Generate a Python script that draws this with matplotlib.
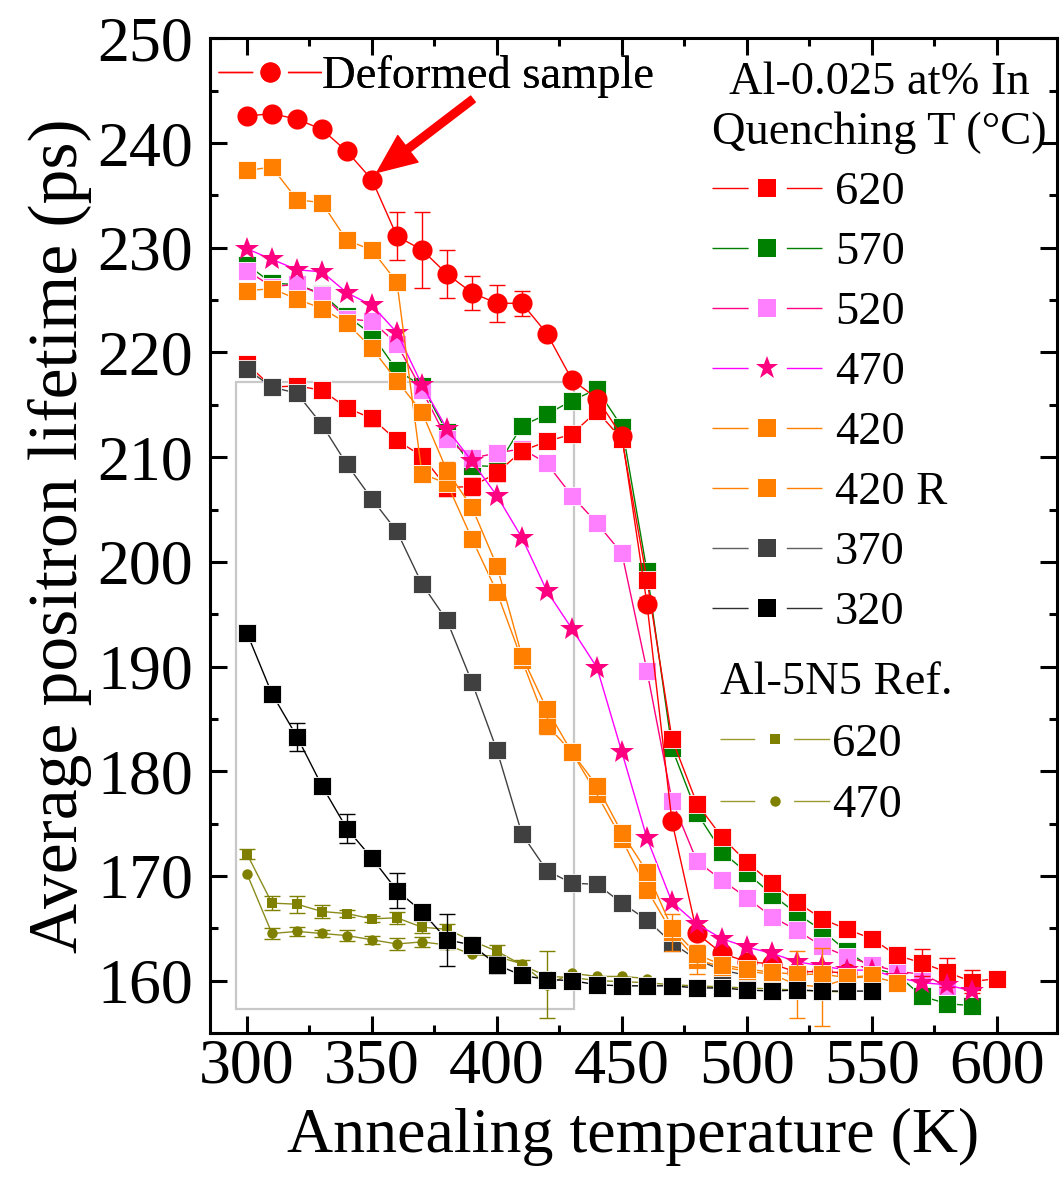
import numpy as np
import matplotlib
matplotlib.use("Agg")
import matplotlib.pyplot as plt
from matplotlib.lines import Line2D
from matplotlib.patches import Rectangle
from matplotlib.ticker import MultipleLocator

plt.rcParams["font.family"] = ["Liberation Serif", "DejaVu Serif"]
plt.rcParams["lines.scale_dashes"] = False

# ---------------- data: average positron lifetime (ps) vs annealing T (K) ----------------
T_deformed = np.arange(300, 541, 10)
tau_deformed = np.array([242.6, 242.8, 242.3, 241.3, 239.2, 236.5, 231.1, 229.8, 227.5, 225.7,
                         224.7, 224.7, 221.8, 217.4, 215.6, 212.0, 196.0, 175.2, 164.5, 162.6,
                         161.8, 161.6, 160.8, 160.9, 160.7])
err_deformed = np.array([0, 0, 0, 0, 0, 0, 2.3, 3.6, 2.3, 1.6,
                         1.75, 1.2, 0.5, 0, 0.5, 0.5, 0.6, 0, 0, 0,
                         0, 0, 0, 0, 0])

T_620 = np.arange(300, 601, 10)
tau_620 = np.array([218.9, 216.7, 216.8, 216.4, 214.7, 213.7, 211.6, 210.1, 207.1, 207.2,
                    208.5, 210.6, 211.5, 212.2, 214.4, 211.7, 198.3, 183.1, 176.9, 173.7,
                    171.3, 169.3, 167.5, 165.9, 164.9, 164.0, 162.4, 161.7, 160.8, 159.9,
                    160.2])
err_620 = np.array([0, 0.4, 0.6, 0.6, 0.7, 0.7, 0, 0, 0.8, 0.8,
                    0.8, 0.8, 0.5, 0, 0, 0, 0.4, 0, 0, 0,
                    0, 0, 0, 0, 0, 0, 0.5, 1.3, 1.4, 1.1,
                    0])

T_570 = np.arange(300, 591, 10)
tau_570 = np.array([228.4, 226.6, 226.5, 225.6, 223.5, 221.7, 218.3, 216.8, 212.4, 209.2,
                    209.1, 213.0, 214.1, 215.4, 216.5, 212.9, 199.1, 182.2, 176.0, 172.3,
                    170.3, 168.2, 166.4, 164.8, 162.8, 161.2, 160.6, 158.5, 157.8, 157.6])

T_520 = np.arange(300, 581, 10)
tau_520 = np.array([227.8, 226.3, 226.5, 225.5, 223.2, 223.0, 220.8, 216.4, 211.7, 209.9,
                    210.4, 210.8, 209.4, 206.3, 203.7, 200.8, 189.6, 177.2, 171.4, 169.6,
                    167.9, 166.1, 164.8, 163.3, 162.3, 161.5, 160.9, 160.6, 159.5])

T_470 = np.arange(300, 591, 10)
tau_470 = np.array([229.9, 228.9, 227.9, 227.7, 225.7, 224.5, 221.9, 216.9, 212.7, 209.6,
                    206.3, 202.3, 197.2, 193.6, 189.9, 181.8, 173.6, 167.5, 165.4, 164.0,
                    163.2, 162.6, 161.8, 161.4, 161.0, 161.0, 160.3, 159.8, 159.6, 159.0])

T_420 = np.arange(300, 561, 10)
tau_420 = np.array([237.4, 237.7, 234.6, 234.3, 230.7, 229.8, 226.7, 208.4, 207.5, 202.2,
                    197.1, 190.6, 184.4, 181.8, 177.8, 173.5, 168.7, 164.6, 162.0, 161.3,
                    160.9, 160.6, 159.6, 159.4, 160.2, 160.4, 159.8])
err_420 = np.array([0, 0, 0, 0, 0, 0, 0, 0, 0, 0,
                    0.5, 0, 0.8, 0, 0.4, 0, 0, 1.75, 1.4, 0,
                    0, 0, 3.2, 3.7, 0, 0, 0])

T_420R = np.arange(300, 551, 10)
tau_420R = np.array([225.9, 226.1, 225.1, 224.2, 222.8, 220.4, 217.3, 214.3, 208.7, 205.2,
                     199.6, 191.0, 185.9, 181.8, 178.6, 174.1, 170.4, 165.0, 162.5, 161.5,
                     161.1, 160.8, 160.6, 160.6, 160.3, 160.5])
err_420R = np.array([0, 0, 0, 0, 0, 0, 0, 0, 0.8, 0,
                     0, 0.5, 0, 0, 0, 0, 0, 0, 0, 0,
                     0, 0, 0, 0, 0, 0])

T_370 = np.arange(300, 501, 10)
tau_370 = np.array([218.4, 216.7, 216.1, 213.1, 209.3, 206.0, 202.9, 197.9, 194.4, 188.5,
                    182.0, 174.0, 170.5, 169.3, 169.2, 167.4, 165.8, 163.6, 162.0, 161.0,
                    160.5])

T_320 = np.arange(300, 551, 10)
tau_320 = np.array([193.2, 187.4, 183.3, 178.6, 174.5, 171.7, 168.6, 166.6, 163.9, 163.4,
                    161.5, 160.5, 160.1, 160.0, 159.6, 159.5, 159.5, 159.5, 159.3, 159.3,
                    159.1, 159.0, 159.1, 159.0, 159.0, 159.0])
err_320 = np.array([0.7, 0, 1.35, 0, 1.4, 0, 1.7, 0, 2.5, 0,
                    0.8, 0, 0, 0, 0, 0, 0, 0, 0, 0,
                    0, 0, 0, 0, 0, 0])

T_ref620 = np.arange(300, 541, 10)
tau_ref620 = np.array([172.1, 167.4, 167.3, 166.6, 166.4, 165.9, 166.0, 165.1, 164.9, 163.8,
                       162.8, 161.5, 160.4, 160.3, 160.0, 159.9, 159.8, 159.6, 159.5, 159.4,
                       159.3, 159.2, 159.1, 159.0, 158.9])
err_ref620 = np.array([0.5, 0.7, 0.8, 0.6, 0.3, 0.3, 0.6, 0.6, 0.5, 0,
                       0.6, 0.5, 0, 0, 0, 0, 0, 0, 0, 0,
                       0, 0, 0, 0, 0])

T_ref470 = np.arange(300, 461, 10)
tau_ref470 = np.array([170.2, 164.5, 164.7, 164.5, 164.3, 163.9, 163.5, 163.7, 163.4, 162.5,
                       162.3, 161.6, 159.6, 160.7, 160.4, 160.4, 160.2])
err_ref470 = np.array([0, 0.5, 0.4, 0.3, 0.5, 0.4, 0.6, 0.5, 0.4, 0,
                       0, 0, 3.2, 0, 0, 0, 0])

alloy_labels = ["620", "570", "520", "470", "420", "420 R", "370", "320"]
ref_labels = ["620", "470"]

# ---------------- figure ----------------
fig = plt.figure(figsize=(10.61, 11.82), dpi=100)
ax = fig.add_axes([0.1979, 0.1261, 0.7983, 0.8414])

EDGE = "white"


def draw(T, tau, face, line, marker, ms, z, err=None, mec=EDGE, mew=0.6):
    ax.plot(T, tau, color=line, lw=1.0, marker=marker, ms=ms, mfc=face,
            mec=mec, mew=mew, zorder=z)
    if err is not None:
        m = err > 0
        ax.errorbar(T[m], tau[m], yerr=err[m], fmt="none", ecolor=face,
                    elinewidth=1.0, capsize=6, capthick=1.0, zorder=z + 0.5)


RED, GREEN, PINK, STAR, MAG = "#FF0000", "#008000", "#FF80FF", "#FF0080", "#FF00FF"
ORANGE, GRAY, BLACK, OLIVE, OLIVE_L = "#FF8000", "#404040", "#000000", "#808000", "#8C8C1E"

draw(T_ref620, tau_ref620, OLIVE, OLIVE_L, "s", 7, 2, err_ref620, mec=OLIVE, mew=0)
draw(T_ref470, tau_ref470, OLIVE, OLIVE_L, "o", 7.5, 2, err_ref470, mec=OLIVE, mew=0)
draw(T_570, tau_570, GREEN, GREEN, "s", 12.5, 3)
draw(T_520, tau_520, PINK, STAR, "s", 12.5, 4)
draw(T_620, tau_620, RED, RED, "s", 12.5, 5, err_620)
draw(T_370, tau_370, GRAY, GRAY, "s", 12.5, 6)
draw(T_deformed, tau_deformed, RED, RED, "o", 14.5, 7, err_deformed, mec=RED, mew=0)
draw(T_470, tau_470, STAR, MAG, "*", 18, 8, mec=STAR, mew=0)
draw(T_420, tau_420, ORANGE, ORANGE, "s", 12.5, 9, err_420)
draw(T_420R, tau_420R, ORANGE, ORANGE, "s", 12.5, 9.2, err_420R)
draw(T_320, tau_320, BLACK, BLACK, "s", 12.5, 10, err_320)

# highlighted low-temperature window
ax.add_patch(Rectangle((295.6, 157.3), 430.8 - 295.6, 217.2 - 157.3, fill=False,
                       ec="#C8C8C8", lw=1.6, zorder=1))

# arrow pointing at the deformed sample curve
ax.annotate("", xy=(352.0, 237.2), xytext=(390.4, 244.2),
            arrowprops=dict(facecolor=RED, edgecolor=RED, width=5.5, headwidth=24,
                            headlength=28), zorder=12)

# ---------------- axes ----------------
ax.set_xlim(285.2, 624)
ax.set_ylim(155, 250)
ax.xaxis.set_major_locator(MultipleLocator(50))
ax.xaxis.set_minor_locator(MultipleLocator(25))
ax.yaxis.set_major_locator(MultipleLocator(10))
ax.yaxis.set_minor_locator(MultipleLocator(5))
ax.set_xticks(np.arange(300, 601, 50))
ax.set_yticks(np.arange(160, 251, 10))
ax.tick_params(which="both", direction="in", top=True, right=True, width=2.2,
               labelsize=46)
ax.tick_params(which="major", length=12)
ax.tick_params(which="minor", length=6)
ax.tick_params(axis="y", pad=12)
ax.tick_params(axis="x", pad=4)
for s in ax.spines.values():
    s.set_linewidth(2.2)

ax.set_xlabel("Annealing temperature (K)", fontsize=46, labelpad=8)
ax.set_ylabel("Average positron lifetime (ps)", fontsize=50, labelpad=4)

# ---------------- legends ----------------
LFS = 33.5


def handle(face, line, marker, ms, dash, mec=None):
    return Line2D([], [], color=line, lw=1.0, marker=marker, ms=ms, mfc=face,
                  mec=mec if mec else face, mew=0, linestyle=(0, dash))


gap1 = (26, 27.5, 26, 80)
alloy_handles = [
    handle(RED, RED, "s", 13.5, gap1),
    handle(GREEN, GREEN, "s", 13.5, gap1),
    handle(PINK, STAR, "s", 13.5, gap1),
    handle(STAR, MAG, "*", 17, gap1),
    handle(ORANGE, ORANGE, "s", 13.5, gap1),
    handle(ORANGE, ORANGE, "s", 13.5, gap1),
    handle(GRAY, "#606060", "s", 13.5, gap1),
    handle(BLACK, "#303030", "s", 13.5, gap1),
]
leg1 = ax.legend(alloy_handles, alloy_labels, title="Al-0.025 at% In\nQuenching T (°C)",
                 loc="upper left", bbox_to_anchor=(712 / 1061, 1 - 62 / 1182),
                 bbox_transform=fig.transFigure, frameon=False, fontsize=LFS,
                 title_fontsize=LFS, handlelength=79.2 / LFS, handletextpad=9.4 / LFS,
                 labelspacing=0.375, borderpad=0, borderaxespad=0, alignment="left",
                 numpoints=1)
leg1.get_title().set_multialignment("center")
leg1.get_title().set_linespacing(1.21)
ax.add_artist(leg1)

gap2 = (25, 28, 26, 80)
ref_handles = [
    handle(OLIVE, "#9A9A30", "s", 7, gap2),
    handle(OLIVE, "#9A9A30", "o", 7.5, gap2),
]
leg2 = ax.legend(ref_handles, ref_labels, title="Al-5N5 Ref.",
                 loc="upper left", bbox_to_anchor=(720 / 1061, 1 - 662 / 1182),
                 bbox_transform=fig.transFigure, frameon=False, fontsize=LFS,
                 title_fontsize=LFS, handlelength=79.2 / LFS, handletextpad=0.04,
                 labelspacing=0.40, borderpad=0, borderaxespad=0, alignment="left",
                 numpoints=1)
ax.add_artist(leg2)

gap3 = (25, 25, 24.5, 80)
leg3 = ax.legend([handle(RED, RED, "o", 14.5, gap3)], ["Deformed sample"],
                 loc="upper left", bbox_to_anchor=(218 / 1061, 1 - 55 / 1182),
                 bbox_transform=fig.transFigure, frameon=False, fontsize=LFS,
                 handlelength=75 / LFS, handletextpad=0.0, borderpad=0, borderaxespad=0,
                 numpoints=1)
ax.add_artist(leg3)

fig.savefig("out.png", dpi=100)
